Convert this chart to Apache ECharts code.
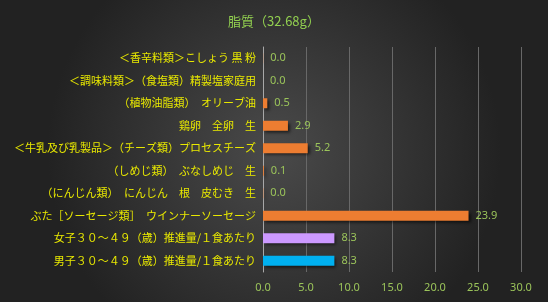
<!DOCTYPE html>
<html>
<head>
<meta charset="utf-8">
<script src="https://cdn.jsdelivr.net/npm/echarts@6/dist/echarts.min.js"></script>
<style>
  html, body { margin: 0; padding: 0; }
  #chart { width: 548px; height: 302px; }
</style>
</head>
<body>
<div id="chart"></div>
<script>
// top to bottom
const categories = [
  '＜香辛料類＞こしょう 黒 粉',
  '＜調味料類＞（食塩類）精製塩家庭用',
  '（植物油脂類）　オリーブ油',
  '鶏卵　全卵　生',
  '＜牛乳及び乳製品＞（チーズ類）プロセスチーズ',
  '（しめじ類）　ぶなしめじ　生',
  '（にんじん類）　にんじん　根　皮むき　生',
  'ぶた［ソーセージ類］　ウインナーソーセージ',
  '女子３０～４９（歳）推進量/１食あたり',
  '男子３０～４９（歳）推進量/１食あたり'
]
const values = [0.02, 0.0, 0.5, 2.9, 5.2, 0.1, 0.04, 23.9, 8.3, 8.3]
const barColors = ['#ED7D31', '#ED7D31', '#ED7D31', '#ED7D31', '#ED7D31', '#ED7D31', '#ED7D31', '#ED7D31', '#CC99FF', '#00B0F0']
const xTicks = [0, 5, 10, 15, 20, 25, 30]
const title = '脂質（32.68g）'

const chart = echarts.init(document.getElementById('chart'))
chart.setOption({
  backgroundColor: {
    type: 'radial', x: 0.5, y: 0.5, r: 0.75,
    colorStops: [
      { offset: 0, color: '#4a4a4a' },
      { offset: 1, color: '#222222' }
    ]
  },
  title: {
    text: title,
    left: 'center',
    top: 10,
    textStyle: { color: '#92D050', fontSize: 13, fontWeight: 'normal', fontFamily: 'Noto Sans CJK JP' }
  },
  grid: { left: 263, right: 27, top: 47, bottom: 30, containLabel: false },
  xAxis: {
    type: 'value',
    min: xTicks[0],
    max: xTicks[xTicks.length - 1],
    interval: 5,
    axisLine: { show: false },
    axisTick: { show: false },
    splitLine: { lineStyle: { color: '#686868', width: 1 } },
    axisLabel: {
      color: '#9BC45A', fontSize: 11, margin: 10, fontFamily: 'Noto Sans',
      formatter: v => v.toFixed(1)
    }
  },
  yAxis: {
    type: 'category',
    inverse: true,
    data: categories,
    axisLine: { show: true, lineStyle: { color: '#a8a8a8', width: 1 } },
    axisTick: { show: false },
    axisLabel: { color: '#E8E800', fontSize: 11, margin: 7, fontFamily: 'Noto Sans CJK JP' }
  },
  series: [{
    type: 'bar',
    data: values.map((v, i) => ({ value: v, itemStyle: { color: barColors[i] } })),
    barWidth: 10,
    itemStyle: {
      shadowColor: 'rgba(0,0,0,0.6)',
      shadowBlur: 3,
      shadowOffsetX: 2,
      shadowOffsetY: 2
    },
    label: {
      show: true,
      position: 'right',
      distance: 7,
      color: '#9BC45A',
      fontSize: 11,
      fontFamily: 'Noto Sans',
      formatter: p => p.value.toFixed(1)
    },
    animation: false
  }]
})
</script>
</body>
</html>
